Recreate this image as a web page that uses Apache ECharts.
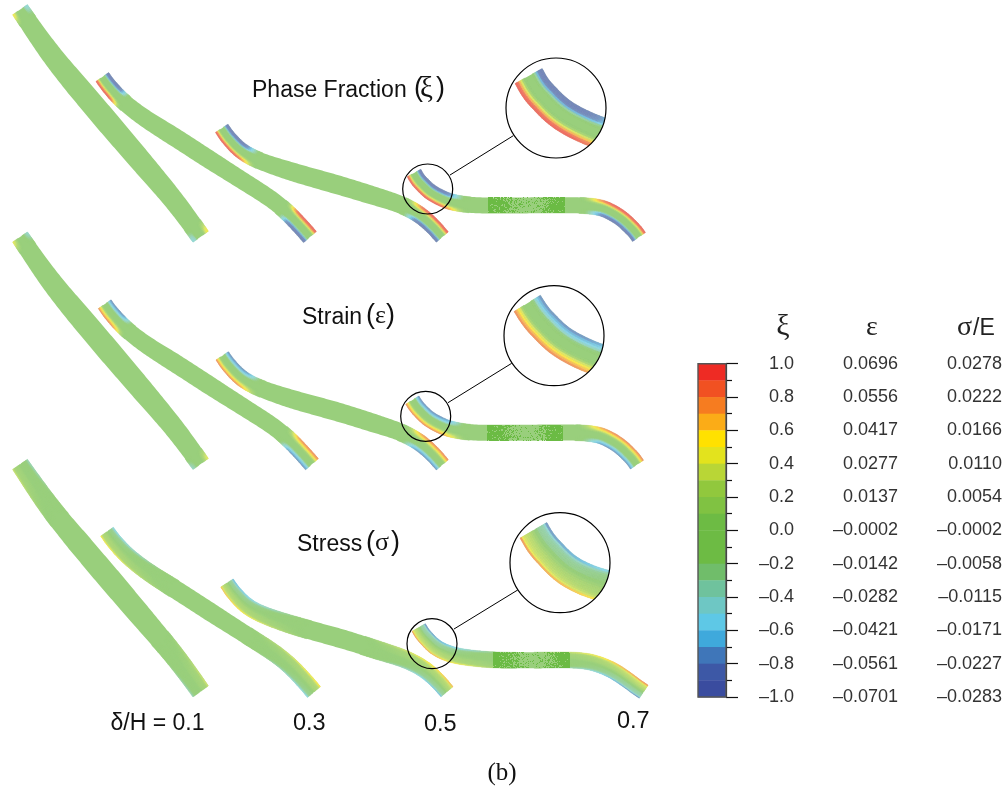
<!DOCTYPE html>
<html>
<head>
<meta charset="utf-8">
<style>html,body{margin:0;padding:0;background:#fff}#c{width:1008px;height:791px}</style>
<script src="https://cdn.jsdelivr.net/npm/echarts@6/dist/echarts.min.js"></script>
</head>
<body>
<div id="c"></div>
<script>
// ---- centre lines, one per deflection and field
var phaseA = [[20,9.7],[51.7,55],[91.7,103.3],[133.3,152.3],[175,201.7],[200.7,236.7]];
var phaseB = [[102.3,77],[112.3,90.7],[124,102.3],[143.3,117.3],[175,137.3],[210,160],[246.7,183.3],[275,201.7],[293.3,218.3],[310,237]];
var phaseC = [[221.7,128.3],[232.3,143.3],[245,154],[261.7,161.7],[291.7,171.7],[340,185.5],[373.3,195.7],[404,205.7],[425,218.3],[433.3,226.7],[442.3,237]];
var phaseD = [[414,173],[420.9,184.3],[432.2,194],[447.9,200.8],[473.3,205.3],[580,205.3],[603.3,208.3],[620,216.7],[631.7,227.3],[639,237]];
var strainA = [[20,237],[51.7,282.3],[91.7,330.6],[133.3,379.6],[175,429],[200.7,464]];
var strainB = [[104.7,304.2],[114.6,317.9],[126.4,329.5],[145.6,344.5],[177.3,364.5],[212.2,387.2],[248.8,410.5],[277,428.9],[295.3,445.5],[312,464.2]];
var strainC = [[222.2,355.8],[232.8,370.7],[245.4,381.4],[262,389.1],[292,399.2],[340.2,412.6],[373.4,423.1],[404,433.3],[425,446],[433.3,454.4],[442.3,464.8]];
var strainD = [[412.3,400.1],[419.5,410.9],[430.4,421],[446.5,427.6],[471.3,432.6],[578,432.6],[601.3,435.6],[618,444],[629.7,454.6],[637,464.6]];
var stressA = [[20,464.4],[51.7,509.7],[91.7,558],[133.3,607],[175,656.4],[200.7,691.4]];
var stressB = [[107,531.7],[117,545.4],[128.7,557],[148,572],[179.5,592],[214.5,614.7],[251,638],[279.2,656.4],[297.5,673],[314,692]];
var stressC = [[227,583],[237.5,598],[250,608.7],[266.7,616.3],[296.7,626.3],[345,639.7],[378.2,650.4],[409,660.4],[430,673],[438.2,681.4],[447,691.7]];
var stressD = [[418.7,627.5],[426.2,639.4],[437,648.7],[452,655],[493.3,660],[570,660],[590,661.7],[613.3,670],[630,682.3],[643.7,691.7]];

// ---- beam thickness along its length
var thickA = [18,20.5,23,23.5,22.5,20.5,19];
var thickB = [15.5,17,18.5,18.5,17.5,17,17];
var thickC = [15,16.5,18.5,19,18.5,17,15.8];
var thickD = [15.5,16,16,16,16,16,16,15.8];

// ---- field value across a section, from the tension edge to the compression edge
var xiSection = [1.0,0.95,0.85,0.55,0.28,0.1,0,0,0,0,0,-0.05,-0.55,-0.8,-0.88,-0.9,-0.9];
var epsSection = [0.85,0.75,0.62,0.5,0.3,0.15,0.02,0,0,0,0,-0.1,-0.32,-0.52,-0.62,-0.72,-0.82];
var sigSection = [1.0,0.55,0.42,0.36,0.33,0.3,0.28,0.2,0.1,-0.1,-0.25,-0.3,-0.3,-0.33,-0.38,-0.58,-0.95];
// decay of the field along the end zones
var plasticDecay = [1,1,1,1,1,1,0.97,0.9,0.7,0.4,0.12,0];
var elasticDecay = [1,0.95,0.9,0.85,0.75,0.65,0.55,0.45,0.35,0.25,0.12,0];
// dither density along the free middle of the longest beam
var ditherDensity = [0.95,0.9,0.8,0.55,0.25,0.15,0.1,0.2,0.4,0.8,0.95,0.9];

// ---- colour bar
var bandTop = [1.0,0.9,0.8,0.7,0.6,0.5,0.4,0.3,0.2,0.1,0.0,-0.1,-0.2,-0.3,-0.4,-0.5,-0.6,-0.7,-0.8,-0.9];
var bandColor = ['#ee2b24','#f15122','#f67c20','#fbac17','#ffe100','#e3e31d','#b9d636','#91c83d','#80c242','#6dbb44',
                 '#6dbb44','#6dbb44','#70bd6a','#6fc29d','#6ec7c4','#5ec8e6','#3fa9dc','#3f76b9','#3d58a6','#3a4c9f'];
var xiTicks = ['1.0','0.8','0.6','0.4','0.2','0.0','–0.2','–0.4','–0.6','–0.8','–1.0'];
var epsTicks = ['0.0696','0.0556','0.0417','0.0277','0.0137','–0.0002','–0.0142','–0.0282','–0.0421','–0.0561','–0.0701'];
var sigTicks = ['0.0278','0.0222','0.0166','0.0110','0.0054','–0.0002','–0.0058','–0.0115','–0.0171','–0.0227','–0.0283'];

// ---- colour helpers
function hexRgb(h){return [parseInt(h.substr(1,2),16),parseInt(h.substr(3,2),16),parseInt(h.substr(5,2),16)];}
var bandRgb = bandColor.map(hexRgb);
var WASH = 0.3;
function fieldColor(v){
  v = Math.max(-1,Math.min(1,v));
  var f = (1 - v) / 0.1 - 0.5;
  f = Math.max(0,Math.min(19,f));
  var i = Math.min(18,Math.floor(f)), k = f - i, o = [];
  for (var c=0;c<3;c++){
    var x = bandRgb[i][c]*(1-k)+bandRgb[i+1][c]*k;
    o.push(Math.round(x+(255-x)*WASH));
  }
  return 'rgb('+o.join(',')+')';
}
function lerp(arr,u){
  u = Math.max(0,Math.min(1,u))*(arr.length-1);
  var i = Math.min(arr.length-2,Math.floor(u));
  return arr[i]*(1-(u-i))+arr[i+1]*(u-i);
}

// ---- smooth path through read centre-line points, drawn in pixel space
function sample(p,spacing){
  var raw = [];
  for (var i=0;i<p.length-1;i++){
    var a=p[Math.max(0,i-1)],b=p[i],c=p[i+1],d=p[Math.min(p.length-1,i+2)];
    var L=Math.hypot(c[0]-b[0],c[1]-b[1]), n=Math.max(2,Math.ceil(L/spacing));
    for (var j=0;j<n;j++){
      var t=j/n,t2=t*t,t3=t2*t;
      raw.push([
        0.5*(2*b[0]+(c[0]-a[0])*t+(2*a[0]-5*b[0]+4*c[0]-d[0])*t2+(3*b[0]-a[0]-3*c[0]+d[0])*t3),
        0.5*(2*b[1]+(c[1]-a[1])*t+(2*a[1]-5*b[1]+4*c[1]-d[1])*t2+(3*b[1]-a[1]-3*c[1]+d[1])*t3)
      ]);
    }
  }
  raw.push(p[p.length-1]);
  var W=Math.round(15/spacing), out=[];
  for (i=0;i<raw.length;i++){
    var w=Math.min(W,i,raw.length-1-i),sx=0,sy=0;
    for (j=i-w;j<=i+w;j++){sx+=raw[j][0];sy+=raw[j][1];}
    out.push([sx/(2*w+1),sy/(2*w+1)]);
  }
  return out;
}
function frame(out,thick,scale){
  var s=[0];
  for (var i=1;i<out.length;i++) s.push(s[i-1]+Math.hypot(out[i][0]-out[i-1][0],out[i][1]-out[i-1][1]));
  var len=s[s.length-1];
  var nor=out.map(function(q,k){
    var w=2,u=out[Math.max(0,k-w)],v=out[Math.min(out.length-1,k+w)];
    var dx=v[0]-u[0],dy=v[1]-u[1],l=Math.hypot(dx,dy)||1;
    return [dy/l,-dx/l];
  });
  var hw=s.map(function(x){return lerp(thick,x/len)/2*scale;});
  return {pts:out,s:s,nor:nor,len:len,hw:hw};
}
function cellPoint(g,k,t){
  var o=(t-0.5)*2*g.hw[k];
  return [g.pts[k][0]+g.nor[k][0]*o,g.pts[k][1]+g.nor[k][1]*o];
}

var STRIPS = 16;
function beamChildren(g,cfg,section,scale,limit){
  var kids=[], left=[], right=[], k;
  for (k=0;k<g.pts.length;k++){ left.push(cellPoint(g,k,0)); right.push(cellPoint(g,k,1)); }
  kids.push({type:'polygon',shape:{points:left.concat(right.reverse())},style:{fill:fieldColor(0)},silent:true});
  var decay=cfg.decay;
  for (k=0;k<g.pts.length-1;k++){
    var k2=k+1;
    var s=(g.s[k]+g.s[k2])/2/scale, len=g.len/scale;
    if (limit && s>limit) break;
    var fa=cfg.zoneA>0?lerp(decay,s/cfg.zoneA)*cfg.ampA:0;
    var fb=cfg.zoneB>0?lerp(decay,(len-s)/cfg.zoneB)*cfg.ampB:0;
    if (fa<=0.01&&fb<=0.01) continue;
    for (var j=0;j<STRIPS;j++){
      var t=(j+0.5)/STRIPS;
      var v=lerp(section,t)*fa+lerp(section,1-t)*fb;
      if (Math.abs(v)<0.015) continue;
      var c=fieldColor(v);
      kids.push({type:'polygon',silent:true,shape:{points:[
        cellPoint(g,k,j/STRIPS),cellPoint(g,k2,j/STRIPS),
        cellPoint(g,k2,(j+1)/STRIPS),cellPoint(g,k,(j+1)/STRIPS)]},
        style:{fill:c,stroke:c,lineWidth:0.4}});
    }
  }
  return kids;
}
function hash(a,b){var h=Math.imul(a,73856093)^Math.imul(b,19349663);h=Math.imul(h^(h>>>13),1274126177);h=h^(h>>>16);return ((h>>>0)%1000)/1000;}
function ditherChildren(cfg){
  var kids=[],hw=8,x0=cfg.ditherFrom,x1=cfg.ditherTo,yTop=Math.round(cfg.ditherY-hw);
  for (var ix=0;x0+ix<x1;ix++){
    var d=lerp(ditherDensity,ix/(x1-x0));
    for (var iy=0;iy<2*hw;iy++){
      if (hash(ix+cfg.seed,iy+3)<d){
        kids.push({type:'rect',silent:true,shape:{x:x0+ix,y:yTop+iy,width:1,height:1},style:{fill:'#6bbb44'}});
      }
    }
  }
  return kids;
}

// ---- one custom series per beam: data are its centre line
function beamSeries(points,cfg,section){
  return {
    type:'custom',coordinateSystem:'cartesian2d',xAxisIndex:0,yAxisIndex:0,clip:false,silent:true,
    encode:{x:0,y:1},data:points,z:2,
    renderItem:function(params,api){
      if (params.dataIndex!==0) return;
      var g=frame(sample(points.map(function(p){return api.coord(p);}),2),cfg.thick,1);
      var kids=beamChildren(g,cfg,section,1);
      if (cfg.ditherFrom) kids=kids.concat(ditherChildren(cfg));
      return {type:'group',children:kids};
    }
  };
}
// magnifier: the same centre line scaled about the small circle
function insetSeries(points,cfg,section,lens){
  return {
    type:'custom',coordinateSystem:'cartesian2d',xAxisIndex:0,yAxisIndex:0,clip:false,silent:true,
    encode:{x:0,y:1},data:points,z:5,
    renderItem:function(params,api){
      if (params.dataIndex!==0) return;
      var small=api.coord([lens.sx,lens.sy]), big=api.coord([lens.bx,lens.by]);
      var base=sample(points.map(function(p){return api.coord(p);}),1);
      var g=frame(base.map(function(q){return [big[0]+lens.m*(q[0]-small[0]),big[1]+lens.m*(q[1]-small[1])];}),cfg.thick,lens.m);
      var kids=beamChildren(g,cfg,section,lens.m,80);
      return {type:'group',children:[
        {type:'group',clipPath:{type:'circle',shape:{cx:big[0],cy:big[1],r:lens.br}},children:kids},
        {type:'circle',silent:true,shape:{cx:big[0],cy:big[1],r:lens.br},style:{fill:'none',stroke:'#000',lineWidth:1.2}},
        {type:'circle',silent:true,shape:{cx:small[0],cy:small[1],r:lens.sr},style:{fill:'none',stroke:'#000',lineWidth:1.2}},
        {type:'line',silent:true,shape:{x1:lens.x1,y1:lens.y1,x2:lens.x2,y2:lens.y2},style:{stroke:'#000',lineWidth:1}}
      ]};
    }
  };
}

var phaseCfg = {
  A:{thick:thickA,zoneA:14,zoneB:14,ampA:0.55,ampB:0.55,decay:elasticDecay},
  B:{thick:thickB,zoneA:36,zoneB:42,ampA:1,ampB:1,decay:plasticDecay},
  C:{thick:thickC,zoneA:52,zoneB:52,ampA:1,ampB:1,decay:plasticDecay},
  D:{thick:thickD,zoneA:68,zoneB:72,ampA:1,ampB:1,decay:plasticDecay,ditherFrom:488,ditherTo:565,ditherY:205.3,seed:11}
};
var strainCfg = {
  A:{thick:thickA,zoneA:14,zoneB:14,ampA:0.6,ampB:0.55,decay:elasticDecay},
  B:{thick:thickB,zoneA:38,zoneB:44,ampA:1,ampB:1,decay:plasticDecay},
  C:{thick:thickC,zoneA:54,zoneB:54,ampA:1,ampB:1,decay:plasticDecay},
  D:{thick:thickD,zoneA:70,zoneB:74,ampA:1,ampB:1,decay:plasticDecay,ditherFrom:487,ditherTo:563,ditherY:432.6,seed:47}
};
var stressCfg = {
  A:{thick:thickA,zoneA:70,zoneB:70,ampA:0.45,ampB:0.45,decay:elasticDecay},
  B:{thick:thickB,zoneA:90,zoneB:90,ampA:0.7,ampB:0.7,decay:elasticDecay},
  C:{thick:thickC,zoneA:100,zoneB:100,ampA:0.85,ampB:0.85,decay:elasticDecay},
  D:{thick:thickD,zoneA:110,zoneB:120,ampA:1,ampB:1,decay:elasticDecay,ditherFrom:493,ditherTo:570,ditherY:660,seed:83}
};
var phaseLens = {sx:427.7,sy:189,sr:25,bx:556,by:108,br:50,m:2,x1:450,y1:175,x2:513.3,y2:135.7};
var strainLens = {sx:425.7,sy:416.3,sr:25,bx:554,by:335.7,br:50,m:2,x1:448,y1:402.7,x2:511.7,y2:363.3};
var stressLens = {sx:432,sy:643.7,sr:25,bx:560,by:562.7,br:50,m:2,x1:454,y1:629,x2:517.7,y2:590};

var series = [
  beamSeries(phaseA,phaseCfg.A,xiSection),beamSeries(phaseB,phaseCfg.B,xiSection),
  beamSeries(phaseC,phaseCfg.C,xiSection),beamSeries(phaseD,phaseCfg.D,xiSection),
  beamSeries(strainA,strainCfg.A,epsSection),beamSeries(strainB,strainCfg.B,epsSection),
  beamSeries(strainC,strainCfg.C,epsSection),beamSeries(strainD,strainCfg.D,epsSection),
  beamSeries(stressA,stressCfg.A,sigSection),beamSeries(stressB,stressCfg.B,sigSection),
  beamSeries(stressC,stressCfg.C,sigSection),beamSeries(stressD,stressCfg.D,sigSection),
  insetSeries(phaseD,phaseCfg.D,xiSection,phaseLens),
  insetSeries(strainD,strainCfg.D,epsSection,strainLens),
  insetSeries(stressD,stressCfg.D,sigSection,stressLens),
  {
    type:'custom',coordinateSystem:'cartesian2d',xAxisIndex:1,yAxisIndex:1,silent:true,z:3,clip:false,
    data:bandTop.map(function(v,i){return [0,v,v-0.1,i];}),encode:{x:0,y:[1,2]},
    renderItem:function(p,api){
      var a=api.coord([0,api.value(1)]),b=api.coord([1,api.value(2)]);
      return {type:'rect',silent:true,shape:{x:a[0],y:a[1],width:b[0]-a[0],height:b[1]-a[1]+0.4},style:{fill:bandColor[api.value(3)]}};
    }
  }
];

function tickLabeller(list){return function(v){return list[Math.round((1-v)/0.2)];};}
var labelFont = {fontFamily:'"Liberation Sans",Arial,sans-serif',fontSize:18,color:'#333',align:'right',showMinLabel:true,showMaxLabel:true,hideOverlap:false};
function sideAxis(list,margin,withTicks){
  return {
    type:'value',gridIndex:1,position:'right',min:-1,max:1,interval:0.2,
    axisLine:{show:withTicks,onZero:false,lineStyle:{color:'#222',width:1.2}},
    axisTick:{show:withTicks,length:12,inside:false,lineStyle:{color:'#111',width:1.2}},
    minorTick:{show:withTicks,splitNumber:2,length:6,lineStyle:{color:'#111',width:1.2}},
    splitLine:{show:false},
    axisLabel:Object.assign({formatter:tickLabeller(list),margin:margin},labelFont)
  };
}
var sans='"Liberation Sans",Arial,sans-serif', serif='"Liberation Serif","Times New Roman",serif';
function txt(x,y,str,font,size,align,color){
  return {type:'text',x:x,y:y,silent:true,z:10,style:{text:str,fontFamily:font,fontSize:size,fill:color||'#111',textAlign:align||'left',textVerticalAlign:'middle'}};
}
var graphics = [
  txt(252,90.5,'Phase Fraction',sans,23), txt(414,88.5,'(',sans,27), txt(420,89,'ξ',serif,29), txt(436,88.5,')',sans,27),
  txt(302,317.5,'Strain',sans,23), txt(366,315.5,'(',sans,27), txt(375,316.5,'ε',serif,26), txt(386,315.5,')',sans,27),
  txt(297,544.5,'Stress',sans,23), txt(366,542.5,'(',sans,27), txt(375,543,'σ',serif,26), txt(391,542.5,')',sans,27),
  txt(110.5,723.5,'δ/H = 0.1',sans,23),
  txt(293,723.5,'0.3',sans,23.5), txt(424,725,'0.5',sans,23.5), txt(617,722,'0.7',sans,23.5),
  txt(502,773,'(b)',serif,25,'center','#111'),
  txt(783,327,'ξ',serif,30,'center','#222'),
  txt(872,328,'ε',serif,28,'center','#222'),
  txt(957,328,'σ',serif,28,'left','#222'), txt(973,329,'/E',sans,23,'left','#222')
];

var chart = echarts.init(document.getElementById('c'),null,{renderer:'canvas'});
chart.setOption({
  animation:false,
  backgroundColor:'#fff',
  grid:[
    {left:0,top:0,width:1008,height:791,show:false},
    {left:698,top:363.7,width:28,height:333.3,show:true,borderColor:'#555',borderWidth:1.4,backgroundColor:'transparent',z:4}
  ],
  xAxis:[
    {type:'value',gridIndex:0,min:0,max:1008,show:false},
    {type:'value',gridIndex:1,min:0,max:1,show:false}
  ],
  yAxis:[
    {type:'value',gridIndex:0,min:0,max:791,inverse:true,show:false},
    sideAxis(xiTicks,68,true),
    sideAxis(epsTicks,172,false),
    sideAxis(sigTicks,276,false)
  ],
  series:series,
  graphic:{elements:graphics}
});
</script>
</body>
</html>
